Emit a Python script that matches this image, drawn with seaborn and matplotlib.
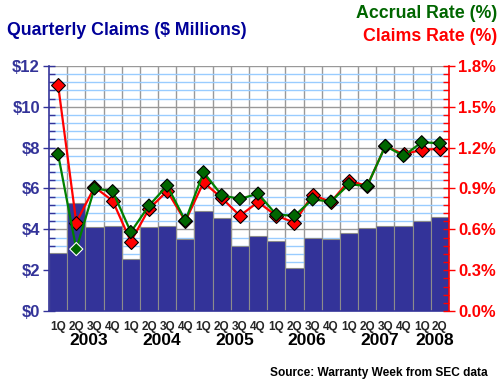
import numpy as np
import pandas as pd
import matplotlib
matplotlib.use("Agg")
import matplotlib.pyplot as plt
import matplotlib.transforms as mtransforms
from matplotlib.ticker import MultipleLocator, FuncFormatter
import seaborn as sns

# ---- data ----
years = [2003, 2004, 2005, 2006, 2007, 2008]
quarters = ["1Q", "2Q", "3Q", "4Q"] * 5 + ["1Q", "2Q"]
claims = [2.83, 5.28, 4.10, 4.17,
          2.53, 4.10, 4.17, 3.51,
          4.89, 4.54, 3.19, 3.66,
          3.45, 2.09, 3.56, 3.51,
          3.81, 4.05, 4.18, 4.18,
          4.39, 4.61]
claims_rate = [1.66, 0.65, 0.91, 0.81,
               0.51, 0.75, 0.88, 0.66,
               0.945, 0.83, 0.70, 0.80,
               0.70, 0.65, 0.855, 0.80,
               0.957, 0.918, 1.212, 1.151,
               1.183, 1.192]
accrual_rate = [1.151, 0.455, 0.90, 0.88,
                0.58, 0.774, 0.921, 0.663,
                1.019, 0.85, 0.823, 0.862,
                0.708, 0.70, 0.82, 0.803,
                0.931, 0.918, 1.212, 1.139,
                1.239, 1.232]

year_of = [y for y in years for _ in range(4)][:len(quarters)]
df = pd.DataFrame({
    "period": [f"{y} {q}" for y, q in zip(year_of, quarters)],
    "claims": claims,
    "claims_rate": claims_rate,
    "accrual_rate": accrual_rate,
})
df["idx"] = np.arange(len(df))

NAVY = "#333399"
TITLE_NAVY = "#000099"
GREEN = "#008000"
DKGREEN = "#006600"
RED = "#ff0000"

sns.set_style("white")
plt.rcParams["font.family"] = ["Liberation Sans", "DejaVu Sans"]
plt.rcParams["font.weight"] = "bold"

fig = plt.figure(figsize=(5.0, 3.85), dpi=100)
ax = fig.add_axes([0.098, 0.192, 0.800, 0.637])

# bars
sns.barplot(data=df, x="period", y="claims", ax=ax, color=NAVY,
            width=1.0, edgecolor="#8c8c8c", linewidth=0.8, saturation=1,
            zorder=2)

n = len(df)
ax.set_xlim(-0.5, n - 0.5)
ax.set_ylim(0, 12)
ax.yaxis.set_major_locator(MultipleLocator(2))
ax.yaxis.set_minor_locator(MultipleLocator(0.4))
ax.yaxis.set_major_formatter(FuncFormatter(lambda v, p: f"${v:.0f}"))

# grid: light blue minor, gray major, gray vertical at quarter boundaries
ax.set_axisbelow(True)
ax.grid(False)
ax.yaxis.grid(True, which="minor", color="#99ccff", linewidth=1.0, zorder=0)
ax.yaxis.grid(True, which="major", color="#999999", linewidth=1.0, zorder=0)
for b in np.arange(-0.5, n, 1.0)[1:]:
    ax.axvline(b, color="#999999", linewidth=1.0, zorder=0.5)

ax.set_xticks(df["idx"])
ax.set_xticklabels(quarters, fontsize=8.5, fontweight="bold")
ax.set_xticks(np.arange(-0.5, n, 1.0), minor=True)
ax.tick_params(axis="x", which="major", length=0, pad=7)
ax.tick_params(axis="x", which="minor", length=4, width=1, color="black",
               direction="out")
ax.tick_params(axis="y", which="major", length=9, width=1, color=NAVY,
               direction="inout", labelcolor=NAVY, labelsize=12, pad=2)
ax.tick_params(axis="y", which="minor", length=4, width=1, color=NAVY,
               direction="in")
for lab in ax.get_yticklabels():
    lab.set_fontweight("bold")
ax.set_xlabel("")
ax.set_ylabel("")

for s in ["top", "right"]:
    ax.spines[s].set_visible(False)
ax.spines["left"].set_color(NAVY)
ax.spines["bottom"].set_color(NAVY)
ax.spines["left"].set_linewidth(1.2)
ax.spines["bottom"].set_linewidth(1.2)

# year labels under the quarter labels
trans = mtransforms.blended_transform_factory(ax.transData, ax.transAxes)
for i, y in enumerate(years):
    members = df.index[np.array(year_of) == y]
    xc = members.values.mean() + 0.2
    ax.text(xc, -0.122, str(y), transform=trans, ha="center", va="center",
            fontsize=12.5, fontweight="bold", color="black")

# rates on the right axis
ax2 = ax.twinx()
ax2.set_ylim(0, 1.8)
sns.lineplot(data=df, x="idx", y="claims_rate", ax=ax2, color=RED,
             linewidth=1.6, marker="D", markersize=7, markerfacecolor=RED,
             markeredgecolor="black", markeredgewidth=0.8, zorder=3)
edge = ["black"] * n
edge[int(np.argmin(accrual_rate))] = "white"
sns.lineplot(data=df, x="idx", y="accrual_rate", ax=ax2, color=GREEN,
             linewidth=1.6, zorder=4)
ax2.scatter(df["idx"], df["accrual_rate"], marker="D", s=45, color=DKGREEN,
            edgecolors=edge, linewidths=0.8, zorder=5)
ax2.set_xlim(-0.5, n - 0.5)
ax2.yaxis.set_major_locator(MultipleLocator(0.3))
ax2.yaxis.set_minor_locator(MultipleLocator(0.06))
ax2.yaxis.set_major_formatter(FuncFormatter(lambda v, p: f"{v:.1f}%"))
ax2.tick_params(axis="y", which="major", length=9, width=1, color=RED,
                direction="inout", labelcolor=RED, labelsize=12, pad=2)
ax2.tick_params(axis="y", which="minor", length=4, width=1, color=RED,
                direction="in")
for lab in ax2.get_yticklabels():
    lab.set_fontweight("bold")
ax2.set_ylabel("")
ax2.set_xlabel("")
for s in ["top", "left", "bottom"]:
    ax2.spines[s].set_visible(False)
ax2.spines["right"].set_color(RED)
ax2.spines["right"].set_linewidth(1.2)
ax2.grid(False)

# titles
fig.text(0.014, 0.922, "Quarterly Claims ($ Millions)", ha="left",
         va="center", fontsize=12.8, fontweight="bold", color=TITLE_NAVY)
fig.text(0.994, 0.966, "Accrual Rate (%)", ha="right", va="center",
         fontsize=12.8, fontweight="bold", color=DKGREEN)
fig.text(0.994, 0.906, "Claims Rate (%)", ha="right", va="center",
         fontsize=12.8, fontweight="bold", color=RED)
fig.text(0.976, 0.031, "Source: Warranty Week from SEC data", ha="right",
         va="center", fontsize=8.6, fontweight="bold", color="black")

fig.savefig("out.png", dpi=100)
